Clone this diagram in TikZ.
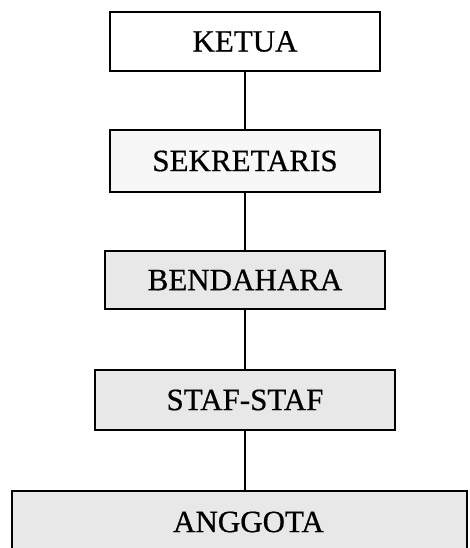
\documentclass[tikz,border=0pt]{standalone}
\usepackage{fontspec}
\setmainfont{Liberation Serif}
\newfontfamily\boxfont{Liberation Serif}[FakeBold=0.6]
\begin{document}
\begin{tikzpicture}[x=1pt,y=-1pt,
  orgbox/.style={draw=black,line width=2.6pt,rectangle,inner sep=0pt,
    font=\boxfont\fontsize{31}{31}\selectfont,text=black},
  plain/.style={orgbox,fill=white},
  shade/.style={orgbox,fill=black!9},
  link/.style={draw=black,line width=2pt}]
\useasboundingbox (0,0) rectangle (469,548);
\clip (0,0) rectangle (469,548);
\node[plain,minimum width=270pt,minimum height=59pt] (ketua) at (245,41.5) {KETUA};
\node[plain,fill=black!3,minimum width=270pt,minimum height=62pt] (sekretaris) at (245,161) {SEKRETARIS};
\node[shade,minimum width=280pt,minimum height=58pt] (bendahara) at (245,280) {BENDAHARA};
\node[shade,minimum width=300pt,minimum height=60pt] (staf) at (245,400) {STAF-STAF};
\node[shade,minimum width=455pt,minimum height=62pt] (anggota) at (239.5,522) {};
\node[font=\boxfont\fontsize{31}{31}\selectfont,inner sep=0pt] (anggotatext) at (248.5,522) {ANGGOTA};
\draw[link] (ketua.south) -- (sekretaris.north);
\draw[link] (sekretaris.south) -- (bendahara.north);
\draw[link] (bendahara.south) -- (staf.north);
\draw[link] (staf.south) -- (staf.south |- anggota.north);
\end{tikzpicture}
\end{document}
